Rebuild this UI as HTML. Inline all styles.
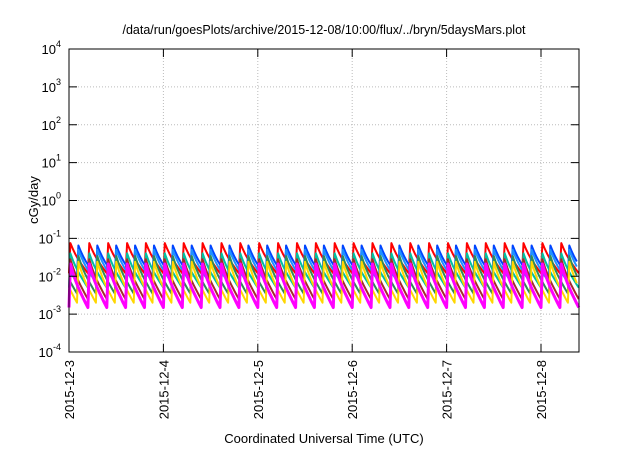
<!DOCTYPE html>
<html><head><meta charset="utf-8"><style>
body{margin:0;background:#fff}
text{font-family:"Liberation Sans",sans-serif;fill:#000}
</style></head><body>
<svg id="chart" width="640" height="448" viewBox="0 0 640 448" xmlns="http://www.w3.org/2000/svg">
<text x="324" y="34" font-size="12.5" text-anchor="middle">/data/run/goesPlots/archive/2015-12-08/10:00/flux/../bryn/5daysMars.plot</text>
<text transform="translate(38,200) rotate(-90)" font-size="13" text-anchor="middle">cGy/day</text>
<text x="324" y="443" font-size="13" text-anchor="middle">Coordinated Universal Time (UTC)</text>
<g id="grid"></g><g id="series"></g><g id="axes"></g>
</svg>
<script>
const xTickLabels=["2015-12-3","2015-12-4","2015-12-5","2015-12-6","2015-12-7","2015-12-8"];
const yTickExps=[-4,-3,-2,-1,0,1,2,3,4];
const seriesColors=["#ff0000","#0044ff","#1e90ff","#00c0a0","#2e8b57","#a52a2a","#ffd700","#ff00ff"];
const seriesPeaks=[0.075,0.065,0.05,0.04,0.034,0.028,0.024,0.021];
const seriesTroughs=[0.012,0.010,0.007,0.005,0.0035,0.0025,0.002,0.0015];
const seriesPhase=[0,0.085,0.085,0,0.085,0,0.085,0];
const cyclePeriod=0.2;
const decayShape=[1,0.8,0.63,0.48,0.35,0.23,0.11,0];
const NS="http://www.w3.org/2000/svg";
const L=69,R=579,T=49,B=352,dayW=94.4,xMax=(R-L)/dayW;
const xs=d=>L+d*dayW;
const ys=v=>B-(Math.log10(v)+4)*(B-T)/8;
function mk(tag,attrs,parent){const e=document.createElementNS(NS,tag);for(const k in attrs)e.setAttribute(k,attrs[k]);parent.appendChild(e);return e;}
const grid=document.getElementById('grid'),axes=document.getElementById('axes'),ser=document.getElementById('series');
yTickExps.forEach((e,i)=>{const y=ys(Math.pow(10,e));
 if(e>-4&&e<4){const g=mk('line',{x1:L,x2:R,y1:y,y2:y,stroke:'#bbb','stroke-dasharray':'1,2'},grid);}
 const t=mk('line',{x1:L,x2:L+8,y1:y,y2:y,stroke:'#000'},axes);
 mk('line',{x1:R,x2:R-8,y1:y,y2:y,stroke:'#000'},axes);
 const tx=mk('text',{x:L-8,y:y+5,'font-size':13,'text-anchor':'end'},axes);
 
 tx.innerHTML='10<tspan font-size="9" dy="-7">'+e+'</tspan>';});
xTickLabels.forEach((s,i)=>{const x=xs(i);
 if(i>0){const g=mk('line',{x1:x,x2:x,y1:T,y2:B,stroke:'#bbb','stroke-dasharray':'1,2'},grid);}
 mk('line',{x1:x,x2:x,y1:B,y2:B-8,stroke:'#000'},axes);mk('line',{x1:x,x2:x,y1:T,y2:T+8,stroke:'#000'},axes);
 const tx=mk('text',{transform:`translate(${x+5},${B+8}) rotate(-90)`,'font-size':13,'text-anchor':'end'},axes);
 tx.textContent=s;});
const fr=mk('rect',{x:L,y:T,width:R-L,height:B-T,fill:'none',stroke:'#000'},axes);

seriesColors.forEach((c,si)=>{const pk=seriesPeaks[si],tr=seriesTroughs[si];let pts=[];
 for(let t0=seriesPhase[si]-cyclePeriod;t0<xMax;t0+=cyclePeriod){
  decayShape.forEach((f,j)=>{const t=t0+0.015+j*(cyclePeriod-0.015)/(decayShape.length-1);
   const v=Math.pow(10,Math.log10(tr)+f*(Math.log10(pk)-Math.log10(tr)));
   if(t>=0&&t<=xMax)pts.push(xs(t).toFixed(1)+','+ys(v).toFixed(1));});}
 const p=mk('polyline',{points:pts.join(' '),fill:'none',stroke:c,'stroke-width':si===7?3:2,'stroke-linejoin':'round'},ser);
 });
</script>
</body></html>
